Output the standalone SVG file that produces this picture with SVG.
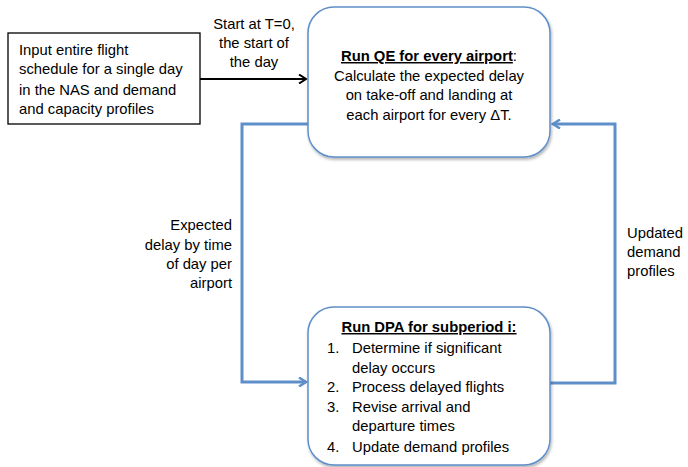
<svg xmlns="http://www.w3.org/2000/svg" width="688" height="467" viewBox="0 0 688 467">
<style>
text{font-family:"Liberation Sans",Arial,sans-serif;font-size:14.8px;fill:#000}
.c{text-anchor:middle}
.r{text-anchor:end}
.b{font-weight:bold;text-decoration:underline}
.box{fill:#fff;stroke:#5f8fc9;stroke-width:1.5}
.flow{fill:none;stroke:#5f8fc9;stroke-width:3}
</style>
<defs>
<filter id="sh" x="-10%" y="-10%" width="120%" height="130%">
<feDropShadow dx="1" dy="2" stdDeviation="1.5" flood-color="#000" flood-opacity="0.3"/>
</filter>
<marker id="ab" markerWidth="10" markerHeight="10" refX="8" refY="5" orient="auto" markerUnits="userSpaceOnUse">
<path d="M1,0.5 L8,5 L1,9.5" fill="none" stroke="#5f8fc9" stroke-width="2.5"/>
</marker>
<marker id="ak" markerWidth="10" markerHeight="10" refX="8" refY="5" orient="auto" markerUnits="userSpaceOnUse">
<path d="M1,0.5 L8,5 L1,9.5" fill="none" stroke="#000" stroke-width="2"/>
</marker>
</defs>
<g id="connectors">
<path d="M200,79 H306" fill="none" stroke="#000" stroke-width="2" marker-end="url(#ak)"/>
<path class="flow" d="M308,124 H242 V382 H306" marker-end="url(#ab)"/>
<path class="flow" d="M550,383 H615 V124 H553" marker-end="url(#ab)"/>
</g>
<g id="input">
<rect x="8" y="33" width="192" height="91" fill="#fff" stroke="#000" stroke-width="1.3"/>
<text x="19" y="55">Input entire flight</text>
<text x="19" y="74">schedule for a single day</text>
<text x="19" y="95">in the NAS and demand</text>
<text x="19" y="114">and capacity profiles</text>
</g>
<g id="start-label">
<text class="c" x="254" y="29">Start at T=0,</text>
<text class="c" x="254" y="48">the start of</text>
<text class="c" x="254" y="67">the day</text>
</g>
<g id="qe">
<rect class="box" x="308" y="7" width="242" height="150" rx="26" filter="url(#sh)"/>
<text class="c" x="429" y="61"><tspan class="b">Run QE for every airport</tspan>:</text>
<text class="c" x="429" y="81">Calculate the expected delay</text>
<text class="c" x="429" y="100">on take-off and landing at</text>
<text class="c" x="429" y="120">each airport for every ΔT.</text>
</g>
<g id="expected-label">
<text class="r" x="232" y="230">Expected</text>
<text class="r" x="232" y="250">delay by time</text>
<text class="r" x="232" y="269">of day per</text>
<text class="r" x="232" y="288">airport</text>
</g>
<g id="updated-label">
<text x="627" y="238">Updated</text>
<text x="627" y="257">demand</text>
<text x="627" y="276">profiles</text>
</g>
<g id="dpa">
<rect class="box" x="308" y="307" width="242" height="158" rx="26" filter="url(#sh)"/>
<text class="c b" x="429" y="332">Run DPA for subperiod i:</text>
<text x="327" y="353">1.</text>
<text x="352" y="353">Determine if significant</text>
<text x="352" y="373">delay occurs</text>
<text x="327" y="392">2.</text>
<text x="352" y="392">Process delayed flights</text>
<text x="327" y="412">3.</text>
<text x="352" y="412">Revise arrival and</text>
<text x="352" y="431">departure times</text>
<text x="327" y="452">4.</text>
<text x="352" y="452">Update demand profiles</text>
</g>
</svg>
